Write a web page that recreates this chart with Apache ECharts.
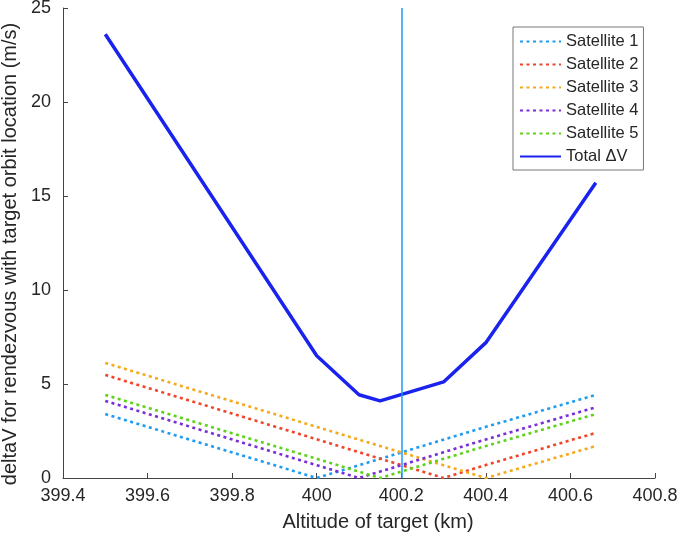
<!DOCTYPE html>
<html>
<head>
<meta charset="utf-8">
<script src="https://cdn.jsdelivr.net/npm/echarts@6/dist/echarts.min.js"></script>
<style>html,body{margin:0;padding:0;background:#fff;}#c{width:685px;height:539px;}</style>
</head>
<body>
<div id="c"></div>
<script>
const altitudes = [399.5, 400, 400.1, 400.15, 400.3, 400.4, 400.66];
const sat1 = [3.4, 0, 0.68, 1.02, 2.04, 2.72, 4.42];
const sat2 = [5.48, 2.06, 1.37, 1.03, 0, 0.69, 2.4];
const sat3 = [6.12, 2.72, 2.04, 1.7, 0.68, 0, 1.7];
const sat4 = [4.1, 0.68, 0, 0.34, 1.37, 2.05, 3.76];
const sat5 = [4.42, 1.02, 0.34, 0, 1.02, 1.7, 3.4];
const totalDV = [23.6, 6.5, 4.43, 4.1, 5.11, 7.2, 15.7];
const markerAltitude = 400.196;
const seriesNames = ['Satellite 1', 'Satellite 2', 'Satellite 3', 'Satellite 4', 'Satellite 5', 'Total \u0394V'];
const colors = ['#1f9cf0', '#f0452a', '#f5a91c', '#7a2fd6', '#5ed21a', '#1a22ee'];

const pairs = arr => altitudes.map((x, i) => [x, arr[i]]);
const satData = [sat1, sat2, sat3, sat4, sat5];
const FONT = 'Liberation Sans, Arial, sans-serif';
const TXT = '#262626';

const series = satData.map((d, i) => ({
  name: seriesNames[i], type: 'line', data: pairs(d), symbol: 'none',
  lineStyle: { color: colors[i], width: 2.6, type: [3, 3.5] },
  itemStyle: { color: colors[i] }, z: 2
}));
series.push({
  name: seriesNames[5], type: 'line', data: pairs(totalDV), symbol: 'none',
  lineStyle: { color: colors[5], width: 3.5 }, itemStyle: { color: colors[5] }, z: 3,
  markLine: {
    silent: true, symbol: 'none', label: { show: false },
    lineStyle: { color: '#1e98f7', width: 1.5, type: 'solid' },
    data: [{ xAxis: markerAltitude }]
  }
});

const chart = echarts.init(document.getElementById('c'));
chart.setOption({
  animation: false,
  backgroundColor: '#fff',
  textStyle: { fontFamily: FONT },
  grid: { left: 63, right: 30, top: 8, bottom: 61, containLabel: false, outerBoundsMode: 'none' },
  xAxis: {
    type: 'value', min: 399.4, max: 400.8, interval: 0.2,
    name: 'Altitude of target (km)', nameLocation: 'middle', nameGap: 34,
    nameTextStyle: { fontSize: 20, color: TXT, fontFamily: FONT, padding: [0, 0, 0, 38] },
    axisLine: { lineStyle: { color: '#444', width: 1 } },
    axisTick: { inside: true, length: 5, lineStyle: { color: '#444' } },
    axisLabel: { fontSize: 18, color: TXT, fontFamily: FONT, margin: 9,
      formatter: v => String(Math.round(v * 10) / 10) },
    splitLine: { show: false }
  },
  yAxis: {
    type: 'value', min: 0, max: 25, interval: 5,
    name: 'deltaV for rendezvous with target orbit location (m/s)', nameLocation: 'middle', nameGap: 36,
    nameTextStyle: { fontSize: 20, color: TXT, fontFamily: FONT, padding: [0, 22, 0, 0] },
    axisLine: { show: true, lineStyle: { color: '#444', width: 1 } },
    axisTick: { show: true, inside: true, length: 5, lineStyle: { color: '#444' } },
    axisLabel: { fontSize: 18, color: TXT, fontFamily: FONT, margin: 12 },
    splitLine: { show: false }
  },
  legend: {
    data: seriesNames, orient: 'vertical', left: 513, top: 27,
    padding: [6, 5, 5, 6], itemGap: 6,
    itemWidth: 41, itemHeight: 14, itemStyle: { opacity: 0, borderWidth: 0 },
    borderColor: '#777', borderWidth: 1, backgroundColor: '#fff',
    textStyle: { fontSize: 16.5, color: TXT, fontFamily: FONT }
  },
  series: series
});
</script>
</body>
</html>
